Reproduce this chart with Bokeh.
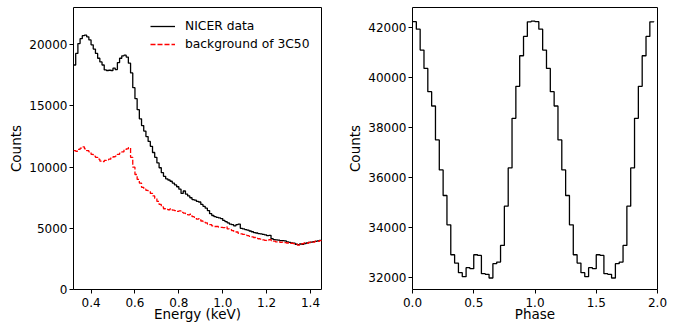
from bokeh.plotting import figure
from bokeh.layouts import row
from bokeh.models import FixedTicker, PrintfTickFormatter, Range1d, Legend, LegendItem
from bokeh.embed import file_html
from bokeh.resources import INLINE

# ---------------- data ----------------
energy_keV = [round(0.32 + 0.01 * i, 2) for i in range(114)]

nicer_counts = [
    18350, 19300, 20100, 20500, 20750, 20800, 20650, 20400, 20000, 19650,
    19300, 18900, 18600, 18350, 17950, 17900, 17920, 17900, 18100, 17980,
    18550, 18900, 19100, 19150, 19000, 18500, 17700, 16500, 15600, 14700,
    13950, 13400, 12950, 12500, 12100, 11700, 11200, 10800, 10350, 9950,
    9550, 9250, 9050, 8950, 8850, 8700, 8550, 8400, 8200, 7850,
    8050, 7800, 7650, 7500, 7350, 7300, 7200, 7150, 6950, 6800,
    6650, 6450, 6200, 6050, 5950, 5900, 5850, 5800, 5650, 5550,
    5450, 5350, 5300, 5200, 5300, 5350, 5000, 4950, 4900, 4850,
    4780, 4720, 4650, 4620, 4570, 4540, 4500, 4470, 4400, 4430,
    4150, 4080, 4050, 4030, 4000, 3990, 3970, 3900, 3850, 3800,
    3780, 3700, 3660, 3720, 3700, 3760, 3800, 3840, 3870, 3910,
    3940, 3980, 4020, 4050,
]

bkg_counts = [
    11350, 11300, 11450, 11550, 11650, 11500, 11350, 11250, 11050, 10900,
    10800, 10650, 10500, 10450, 10550, 10600, 10650, 10750, 10850, 10900,
    11050, 11150, 11250, 11400, 11500, 11600, 10800, 10000, 9400, 9000,
    8700, 8350, 8200, 8100, 8000, 7850, 7650, 7450, 7200, 6950,
    6750, 6600, 6550, 6520, 6600, 6480, 6450, 6380, 6420, 6300,
    6250, 6200, 6100, 6150, 5950, 5900, 5750, 5800, 5600, 5550,
    5450, 5350, 5300, 5200, 5150, 5150, 5100, 5080, 5050, 5120,
    4950, 4900, 4820, 4750, 4700, 4580, 4550, 4500, 4450, 4400,
    4350, 4300, 4250, 4180, 4150, 4120, 4050, 4020, 4000, 4080,
    4000, 3950, 3900, 3920, 3850, 3880, 3830, 3800, 3820, 3780,
    3750, 3700, 3620, 3680, 3750, 3800, 3780, 3850, 3900, 3870,
    3950, 3930, 4000, 4050,
]

# pulse profile, 32 phase bins per cycle (shown for two cycles)
profile_counts = [
    42230, 41933, 41093, 40360, 39427, 38853, 37493, 36293,
    35267, 34093, 32893, 32560, 32173, 32013, 32373, 32333,
    32893, 32867, 32133, 32107, 31960, 32533, 32600, 33267,
    34840, 36373, 38360, 39640, 40867, 41640, 42227, 42253,
]
n_bins = len(profile_counts)
phase_left = [i / n_bins for i in range(2 * n_bins)]
profile_two = profile_counts + profile_counts

FONT = "DejaVu Sans"


def style(p):
    p.xgrid.visible = False
    p.ygrid.visible = False
    p.outline_line_color = "black"
    p.outline_line_width = 1
    p.background_fill_color = "white"
    p.border_fill_color = "white"
    for ax in (p.xaxis[0], p.yaxis[0]):
        ax.axis_line_color = None
        ax.major_tick_line_color = "black"
        ax.major_tick_in = 0
        ax.major_tick_out = 4
        ax.minor_tick_line_color = None
        ax.major_label_text_font = FONT
        ax.major_label_text_font_size = "12px"
        ax.major_label_text_color = "black"
        ax.axis_label_text_font = FONT
        ax.axis_label_text_font_size = "13.5px"
        ax.axis_label_text_font_style = "normal"
        ax.axis_label_text_color = "black"
    p.xaxis[0].major_label_standoff = 4
    p.xaxis[0].axis_label_standoff = -4
    p.yaxis[0].major_label_standoff = 2
    p.yaxis[0].axis_label_standoff = 2


# ---------------- left: spectrum ----------------
p1 = figure(width=340, height=324, output_backend="svg", toolbar_location=None,
            x_range=Range1d(0.32, 1.45), y_range=Range1d(0, 23050),
            min_border_left=73, min_border_right=19, min_border_top=7, min_border_bottom=35)
style(p1)
r_nicer = p1.step(energy_keV, nicer_counts, mode="after", line_color="black", line_width=1.3)
r_bkg = p1.step(energy_keV, bkg_counts, mode="after", line_color="red", line_width=1.3,
                line_dash="5 2")
p1.xaxis[0].ticker = FixedTicker(ticks=[0.4, 0.6, 0.8, 1.0, 1.2, 1.4])
p1.xaxis[0].formatter = PrintfTickFormatter(format="%.1f")
p1.yaxis[0].ticker = FixedTicker(ticks=[0, 5000, 10000, 15000, 20000])
p1.xaxis[0].axis_label = "Energy (keV)"
p1.yaxis[0].axis_label = "Counts"

legend = Legend(items=[LegendItem(label="NICER data", renderers=[r_nicer]),
                       LegendItem(label="background of 3C50", renderers=[r_bkg])],
                location=(69, 228))
legend.border_line_alpha = 0
legend.background_fill_alpha = 0
legend.label_text_font = FONT
legend.label_text_font_size = "12.3px"
legend.label_text_color = "black"
legend.glyph_width = 25
legend.glyph_height = 18
legend.label_height = 18
legend.label_standoff = 10
legend.spacing = 0
legend.padding = 8
legend.margin = 0
p1.add_layout(legend)

# ---------------- right: pulse profile ----------------
p2 = figure(width=338, height=324, output_backend="svg", toolbar_location=None,
            x_range=Range1d(0.0, 2.0), y_range=Range1d(31500, 42800),
            min_border_left=72, min_border_right=21, min_border_top=7, min_border_bottom=35)
style(p2)
p2.step(phase_left, profile_two, mode="after", line_color="black", line_width=1.3)
p2.xaxis[0].ticker = FixedTicker(ticks=[0.0, 0.5, 1.0, 1.5, 2.0])
p2.xaxis[0].formatter = PrintfTickFormatter(format="%.1f")
p2.yaxis[0].ticker = FixedTicker(ticks=[32000, 34000, 36000, 38000, 40000, 42000])
p2.xaxis[0].axis_label = "Phase"
p2.yaxis[0].axis_label = "Counts"

layout = row(p1, p2)
open("out.html", "w").write(file_html(layout, INLINE))
